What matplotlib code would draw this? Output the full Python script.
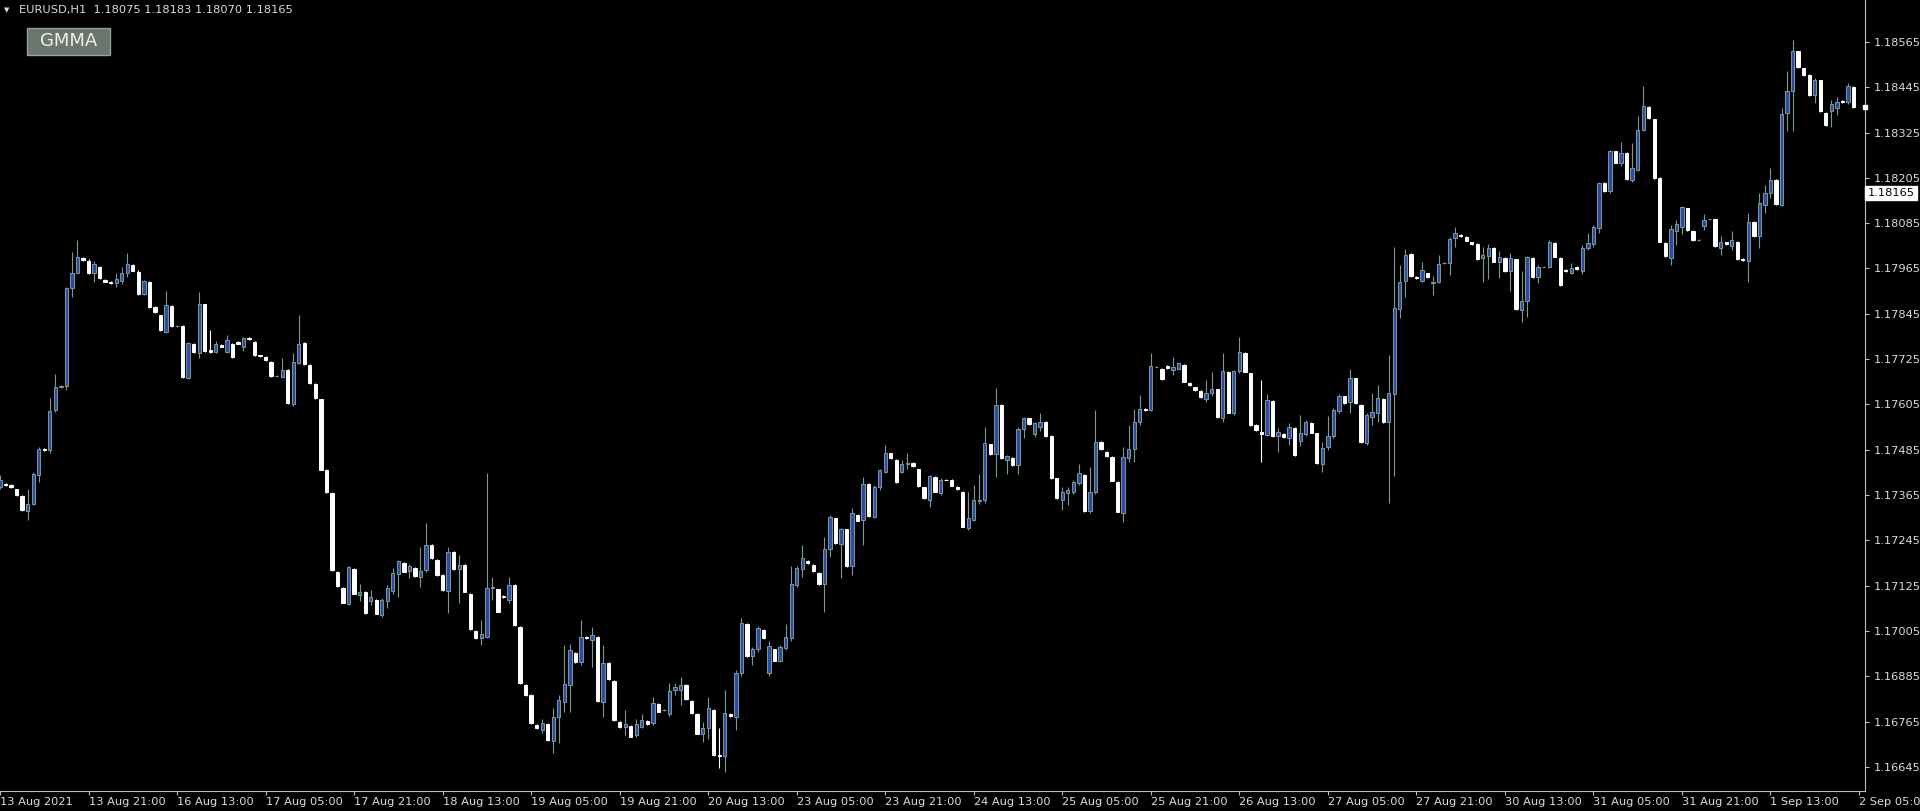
import numpy as np
import matplotlib
matplotlib.use("Agg")
import matplotlib.pyplot as plt
from matplotlib.patches import Rectangle
from matplotlib.transforms import blended_transform_factory

# ---------------- DATA (EURUSD H1) ----------------
opens = [
    1.17387, 1.17395, 1.17391, 1.17380, 1.17362, 1.17323, 1.17342, 1.17418, 1.17488, 1.17484,
    1.17590, 1.17652, 1.17654, 1.17912, 1.17953, 1.17993, 1.17985, 1.17952, 1.17970, 1.17934,
    1.17930, 1.17927, 1.17932, 1.17953, 1.17973, 1.17956, 1.17897, 1.17930, 1.17863, 1.17841,
    1.17797, 1.17865, 1.17812, 1.17812, 1.17674, 1.17765, 1.17742, 1.17870, 1.17749, 1.17745,
    1.17762, 1.17744, 1.17766, 1.17770, 1.17758, 1.17782, 1.17771, 1.17735, 1.17731, 1.17718,
    1.17680, 1.17678, 1.17696, 1.17606, 1.17715, 1.17768, 1.17709, 1.17659, 1.17618, 1.17432,
    1.17371, 1.17162, 1.17118, 1.17076, 1.17170, 1.17099, 1.17109, 1.17085, 1.17087, 1.17047,
    1.17085, 1.17112, 1.17156, 1.17186, 1.17164, 1.17172, 1.17147, 1.17166, 1.17232, 1.17193,
    1.17153, 1.17111, 1.17215, 1.17168, 1.17180, 1.17104, 1.17006, 1.16985, 1.16988, 1.17118,
    1.17115, 1.17098, 1.17088, 1.17126, 1.17016, 1.16862, 1.16835, 1.16756, 1.16742, 1.16758,
    1.16714, 1.16778, 1.16817, 1.16862, 1.16947, 1.16923, 1.16990, 1.16981, 1.16990, 1.16817,
    1.16921, 1.16873, 1.16765, 1.16751, 1.16754, 1.16729, 1.16751, 1.16767, 1.16760, 1.16811,
    1.16795, 1.16785, 1.16849, 1.16848, 1.16862, 1.16820, 1.16786, 1.16732, 1.16749, 1.16795,
    1.16676, 1.16673, 1.16785, 1.16776, 1.16894, 1.17023, 1.16938, 1.16956, 1.17007, 1.16893,
    1.16956, 1.16926, 1.16961, 1.16985, 1.17126, 1.17168, 1.17190, 1.17179, 1.17159, 1.17129,
    1.17221, 1.17303, 1.17235, 1.17274, 1.17177, 1.17312, 1.17299, 1.17394, 1.17306, 1.17385,
    1.17427, 1.17475, 1.17458, 1.17427, 1.17446, 1.17451, 1.17433, 1.17385, 1.17353, 1.17412,
    1.17369, 1.17406, 1.17405, 1.17387, 1.17374, 1.17277, 1.17300, 1.17350, 1.17353, 1.17499,
    1.17474, 1.17603, 1.17458, 1.17464, 1.17444, 1.17541, 1.17568, 1.17527, 1.17546, 1.17559,
    1.17521, 1.17409, 1.17352, 1.17369, 1.17374, 1.17398, 1.17418, 1.17323, 1.17374, 1.17506,
    1.17480, 1.17465, 1.17400, 1.17316, 1.17464, 1.17488, 1.17557, 1.17594, 1.17590, 1.17705,
    1.17700, 1.17707, 1.17696, 1.17698, 1.17709, 1.17662, 1.17650, 1.17640, 1.17618, 1.17634,
    1.17645, 1.17568, 1.17692, 1.17583, 1.17694, 1.17742, 1.17687, 1.17550, 1.17533, 1.17524,
    1.17615, 1.17521, 1.17527, 1.17515, 1.17542, 1.17509, 1.17527, 1.17555, 1.17528, 1.17447,
    1.17491, 1.17520, 1.17588, 1.17626, 1.17612, 1.17674, 1.17604, 1.17502, 1.17572, 1.17582,
    1.17619, 1.17557, 1.17633, 1.17857, 1.17933, 1.18004, 1.17943, 1.17933, 1.17952, 1.17926,
    1.17928, 1.17979, 1.17979, 1.18045, 1.18054, 1.18048, 1.18034, 1.18030, 1.17992, 1.17998,
    1.18019, 1.17983, 1.17992, 1.17957, 1.17989, 1.17855, 1.17880, 1.17992, 1.17942, 1.17970,
    1.17968, 1.18032, 1.17992, 1.17961, 1.17954, 1.17970, 1.17959, 1.18019, 1.18030, 1.18072,
    1.18191, 1.18169, 1.18275, 1.18244, 1.18272, 1.18200, 1.18226, 1.18332, 1.18392, 1.18360,
    1.18204, 1.18032, 1.17992, 1.18063, 1.18076, 1.18124, 1.18065, 1.18041, 1.18078, 1.18095,
    1.18095, 1.18019, 1.18034, 1.18025, 1.18036, 1.17990, 1.17986, 1.18089, 1.18051, 1.18133,
    1.18166, 1.18200, 1.18133, 1.18378, 1.18434, 1.18540, 1.18495, 1.18478, 1.18425, 1.18463,
    1.18378, 1.18381, 1.18390, 1.18409, 1.18405, 1.18445,
]
highs = [
    1.17418, 1.17398, 1.17393, 1.17382, 1.17364, 1.17380, 1.17426, 1.17493, 1.17490, 1.17621,
    1.17685, 1.17656, 1.17916, 1.18009, 1.18040, 1.17996, 1.17990, 1.17985, 1.17972, 1.17936,
    1.17931, 1.17953, 1.17969, 1.18005, 1.17976, 1.17960, 1.17934, 1.17932, 1.17866, 1.17843,
    1.17905, 1.17868, 1.17815, 1.17815, 1.17771, 1.17768, 1.17903, 1.17872, 1.17803, 1.17773,
    1.17764, 1.17788, 1.17768, 1.17772, 1.17784, 1.17784, 1.17773, 1.17737, 1.17733, 1.17720,
    1.17682, 1.17727, 1.17698, 1.17742, 1.17841, 1.17770, 1.17711, 1.17661, 1.17620, 1.17434,
    1.17373, 1.17164, 1.17120, 1.17177, 1.17172, 1.17128, 1.17111, 1.17113, 1.17089, 1.17091,
    1.17126, 1.17171, 1.17193, 1.17188, 1.17181, 1.17174, 1.17228, 1.17290, 1.17234, 1.17195,
    1.17155, 1.17228, 1.17217, 1.17206, 1.17182, 1.17106, 1.17008, 1.17034, 1.17422, 1.17149,
    1.17117, 1.17100, 1.17149, 1.17128, 1.17018, 1.16864, 1.16837, 1.16758, 1.16773, 1.16760,
    1.16800, 1.16835, 1.16968, 1.16970, 1.16949, 1.17034, 1.16992, 1.17016, 1.16992, 1.16968,
    1.16923, 1.16875, 1.16767, 1.16795, 1.16756, 1.16773, 1.16786, 1.16769, 1.16831, 1.16813,
    1.16797, 1.16866, 1.16868, 1.16884, 1.16864, 1.16822, 1.16788, 1.16764, 1.16831, 1.16797,
    1.16747, 1.16848, 1.16787, 1.16901, 1.17038, 1.17025, 1.16963, 1.17018, 1.17009, 1.16979,
    1.16958, 1.16967, 1.17022, 1.17177, 1.17177, 1.17232, 1.17192, 1.17181, 1.17161, 1.17254,
    1.17312, 1.17305, 1.17277, 1.17276, 1.17330, 1.17314, 1.17413, 1.17396, 1.17391, 1.17435,
    1.17497, 1.17477, 1.17460, 1.17458, 1.17477, 1.17453, 1.17435, 1.17387, 1.17418, 1.17414,
    1.17409, 1.17408, 1.17407, 1.17389, 1.17376, 1.17374, 1.17391, 1.17421, 1.17544, 1.17501,
    1.17648, 1.17605, 1.17471, 1.17466, 1.17544, 1.17571, 1.17570, 1.17559, 1.17583, 1.17561,
    1.17523, 1.17411, 1.17387, 1.17387, 1.17405, 1.17447, 1.17420, 1.17438, 1.17590, 1.17508,
    1.17482, 1.17467, 1.17402, 1.17493, 1.17550, 1.17594, 1.17630, 1.17596, 1.17740, 1.17707,
    1.17702, 1.17709, 1.17730, 1.17718, 1.17711, 1.17664, 1.17652, 1.17642, 1.17669, 1.17692,
    1.17647, 1.17742, 1.17694, 1.17696, 1.17784, 1.17744, 1.17689, 1.17552, 1.17670, 1.17633,
    1.17617, 1.17542, 1.17529, 1.17555, 1.17544, 1.17577, 1.17564, 1.17557, 1.17530, 1.17506,
    1.17573, 1.17595, 1.17633, 1.17628, 1.17698, 1.17676, 1.17606, 1.17581, 1.17634, 1.17657,
    1.17621, 1.17736, 1.18021, 1.17974, 1.18016, 1.18006, 1.17945, 1.17983, 1.17954, 1.17944,
    1.18001, 1.17981, 1.18048, 1.18076, 1.18056, 1.18050, 1.18036, 1.18032, 1.18023, 1.18030,
    1.18021, 1.18012, 1.17994, 1.18007, 1.17991, 1.17957, 1.17998, 1.17994, 1.17974, 1.17972,
    1.18041, 1.18034, 1.17994, 1.17963, 1.17980, 1.17972, 1.18027, 1.18060, 1.18080, 1.18195,
    1.18193, 1.18279, 1.18277, 1.18301, 1.18274, 1.18297, 1.18369, 1.18449, 1.18394, 1.18362,
    1.18206, 1.18034, 1.18080, 1.18094, 1.18131, 1.18126, 1.18067, 1.18043, 1.18110, 1.18097,
    1.18097, 1.18050, 1.18036, 1.18063, 1.18038, 1.17992, 1.18111, 1.18091, 1.18164, 1.18186,
    1.18231, 1.18202, 1.18389, 1.18487, 1.18570, 1.18542, 1.18497, 1.18480, 1.18469, 1.18465,
    1.18380, 1.18412, 1.18420, 1.18411, 1.18457, 1.18447,
]
lows = [
    1.17382, 1.17388, 1.17384, 1.17362, 1.17322, 1.17298, 1.17338, 1.17400, 1.17481, 1.17475,
    1.17585, 1.17648, 1.17643, 1.17890, 1.17953, 1.17985, 1.17950, 1.17930, 1.17938, 1.17928,
    1.17925, 1.17916, 1.17925, 1.17943, 1.17957, 1.17895, 1.17894, 1.17860, 1.17848, 1.17799,
    1.17795, 1.17810, 1.17809, 1.17676, 1.17671, 1.17742, 1.17727, 1.17745, 1.17740, 1.17742,
    1.17756, 1.17742, 1.17729, 1.17764, 1.17747, 1.17775, 1.17733, 1.17730, 1.17720, 1.17678,
    1.17678, 1.17676, 1.17607, 1.17600, 1.17712, 1.17710, 1.17660, 1.17619, 1.17430, 1.17371,
    1.17164, 1.17122, 1.17078, 1.17074, 1.17102, 1.17085, 1.17051, 1.17074, 1.17049, 1.17043,
    1.17067, 1.17103, 1.17096, 1.17160, 1.17144, 1.17148, 1.17122, 1.17162, 1.17195, 1.17151,
    1.17111, 1.17053, 1.17167, 1.17078, 1.17107, 1.17007, 1.16983, 1.16968, 1.16985, 1.17087,
    1.17054, 1.17092, 1.17078, 1.17019, 1.16864, 1.16833, 1.16758, 1.16745, 1.16734, 1.16714,
    1.16681, 1.16707, 1.16791, 1.16791, 1.16921, 1.16914, 1.16983, 1.16910, 1.16818, 1.16778,
    1.16875, 1.16767, 1.16749, 1.16729, 1.16723, 1.16725, 1.16747, 1.16757, 1.16756, 1.16789,
    1.16793, 1.16779, 1.16835, 1.16809, 1.16822, 1.16786, 1.16731, 1.16711, 1.16720, 1.16674,
    1.16641, 1.16632, 1.16778, 1.16742, 1.16885, 1.16936, 1.16915, 1.16950, 1.16983, 1.16886,
    1.16924, 1.16922, 1.16954, 1.16979, 1.17122, 1.17148, 1.17182, 1.17162, 1.17127, 1.17056,
    1.17201, 1.17235, 1.17144, 1.17175, 1.17153, 1.17295, 1.17232, 1.17307, 1.17303, 1.17378,
    1.17422, 1.17460, 1.17398, 1.17424, 1.17433, 1.17440, 1.17387, 1.17354, 1.17334, 1.17372,
    1.17365, 1.17404, 1.17388, 1.17379, 1.17279, 1.17271, 1.17297, 1.17341, 1.17345, 1.17472,
    1.17413, 1.17460, 1.17421, 1.17442, 1.17421, 1.17515, 1.17551, 1.17518, 1.17535, 1.17519,
    1.17407, 1.17354, 1.17325, 1.17338, 1.17368, 1.17391, 1.17321, 1.17316, 1.17368, 1.17484,
    1.17465, 1.17401, 1.17319, 1.17294, 1.17453, 1.17453, 1.17550, 1.17588, 1.17588, 1.17703,
    1.17669, 1.17700, 1.17683, 1.17696, 1.17663, 1.17654, 1.17641, 1.17623, 1.17612, 1.17627,
    1.17569, 1.17559, 1.17581, 1.17577, 1.17687, 1.17690, 1.17548, 1.17535, 1.17453, 1.17520,
    1.17519, 1.17480, 1.17516, 1.17498, 1.17469, 1.17495, 1.17522, 1.17528, 1.17447, 1.17427,
    1.17484, 1.17515, 1.17581, 1.17606, 1.17581, 1.17606, 1.17504, 1.17498, 1.17551, 1.17559,
    1.17555, 1.17343, 1.17414, 1.17833, 1.17890, 1.17943, 1.17937, 1.17928, 1.17940, 1.17895,
    1.17926, 1.17977, 1.17948, 1.18023, 1.18048, 1.18037, 1.18028, 1.17987, 1.17930, 1.17936,
    1.17981, 1.17939, 1.17955, 1.17904, 1.17855, 1.17822, 1.17836, 1.17941, 1.17926, 1.17968,
    1.17966, 1.17994, 1.17919, 1.17955, 1.17951, 1.17961, 1.17951, 1.18014, 1.18023, 1.18058,
    1.18167, 1.18164, 1.18243, 1.18237, 1.18199, 1.18195, 1.18222, 1.18328, 1.18361, 1.18202,
    1.18034, 1.17995, 1.17975, 1.18027, 1.18057, 1.18065, 1.18039, 1.18039, 1.18067, 1.18093,
    1.18023, 1.18001, 1.18028, 1.18014, 1.17988, 1.17985, 1.17930, 1.18049, 1.18019, 1.18111,
    1.18151, 1.18134, 1.18131, 1.18328, 1.18328, 1.18496, 1.18476, 1.18423, 1.18403, 1.18379,
    1.18343, 1.18339, 1.18372, 1.18403, 1.18401, 1.18390,
]
closes = [
    1.17404, 1.17391, 1.17386, 1.17364, 1.17325, 1.17340, 1.17420, 1.17488, 1.17483, 1.17588,
    1.17652, 1.17654, 1.17912, 1.17953, 1.17996, 1.17987, 1.17953, 1.17976, 1.17940, 1.17930,
    1.17927, 1.17936, 1.17953, 1.17976, 1.17959, 1.17897, 1.17932, 1.17863, 1.17850, 1.17802,
    1.17868, 1.17812, 1.17812, 1.17678, 1.17768, 1.17744, 1.17870, 1.17747, 1.17745, 1.17766,
    1.17758, 1.17775, 1.17731, 1.17766, 1.17782, 1.17777, 1.17735, 1.17732, 1.17722, 1.17680,
    1.17680, 1.17697, 1.17609, 1.17718, 1.17766, 1.17712, 1.17662, 1.17621, 1.17432, 1.17373,
    1.17166, 1.17124, 1.17080, 1.17175, 1.17104, 1.17109, 1.17053, 1.17094, 1.17051, 1.17087,
    1.17118, 1.17159, 1.17190, 1.17162, 1.17177, 1.17150, 1.17164, 1.17232, 1.17197, 1.17153,
    1.17113, 1.17215, 1.17169, 1.17180, 1.17109, 1.17009, 1.16985, 1.16996, 1.17118, 1.17122,
    1.17056, 1.17094, 1.17126, 1.17021, 1.16866, 1.16835, 1.16760, 1.16747, 1.16760, 1.16716,
    1.16778, 1.16822, 1.16864, 1.16954, 1.16923, 1.16990, 1.16985, 1.16994, 1.16820, 1.16919,
    1.16877, 1.16769, 1.16751, 1.16758, 1.16725, 1.16758, 1.16769, 1.16759, 1.16815, 1.16791,
    1.16795, 1.16847, 1.16857, 1.16863, 1.16824, 1.16788, 1.16733, 1.16749, 1.16800, 1.16676,
    1.16674, 1.16788, 1.16780, 1.16894, 1.17025, 1.16938, 1.16956, 1.17014, 1.16985, 1.16965,
    1.16926, 1.16963, 1.16988, 1.17129, 1.17171, 1.17197, 1.17184, 1.17164, 1.17129, 1.17221,
    1.17306, 1.17237, 1.17274, 1.17177, 1.17316, 1.17297, 1.17394, 1.17309, 1.17387, 1.17431,
    1.17475, 1.17462, 1.17400, 1.17446, 1.17449, 1.17442, 1.17389, 1.17356, 1.17415, 1.17374,
    1.17406, 1.17405, 1.17390, 1.17381, 1.17281, 1.17303, 1.17353, 1.17353, 1.17502, 1.17474,
    1.17603, 1.17462, 1.17468, 1.17444, 1.17539, 1.17568, 1.17553, 1.17555, 1.17559, 1.17521,
    1.17409, 1.17356, 1.17374, 1.17378, 1.17400, 1.17422, 1.17323, 1.17374, 1.17506, 1.17486,
    1.17467, 1.17403, 1.17321, 1.17466, 1.17488, 1.17559, 1.17594, 1.17590, 1.17707, 1.17705,
    1.17671, 1.17702, 1.17705, 1.17714, 1.17665, 1.17656, 1.17643, 1.17625, 1.17636, 1.17646,
    1.17571, 1.17694, 1.17583, 1.17694, 1.17745, 1.17692, 1.17550, 1.17537, 1.17527, 1.17617,
    1.17521, 1.17533, 1.17518, 1.17544, 1.17471, 1.17528, 1.17557, 1.17530, 1.17449, 1.17489,
    1.17521, 1.17590, 1.17626, 1.17608, 1.17674, 1.17608, 1.17506, 1.17577, 1.17586, 1.17621,
    1.17557, 1.17634, 1.17860, 1.17928, 1.18001, 1.17945, 1.17939, 1.17961, 1.17942, 1.17930,
    1.17977, 1.17979, 1.18042, 1.18060, 1.18050, 1.18039, 1.18030, 1.17989, 1.18001, 1.18019,
    1.17983, 1.17995, 1.17957, 1.17992, 1.17857, 1.17880, 1.17995, 1.17943, 1.17970, 1.17970,
    1.18036, 1.17996, 1.17921, 1.17957, 1.17965, 1.17963, 1.18019, 1.18032, 1.18074, 1.18191,
    1.18169, 1.18275, 1.18245, 1.18272, 1.18201, 1.18231, 1.18332, 1.18394, 1.18363, 1.18204,
    1.18036, 1.17997, 1.18069, 1.18083, 1.18127, 1.18067, 1.18041, 1.18041, 1.18094, 1.18095,
    1.18025, 1.18034, 1.18030, 1.18041, 1.17990, 1.17987, 1.18089, 1.18051, 1.18138, 1.18166,
    1.18200, 1.18136, 1.18374, 1.18436, 1.18542, 1.18498, 1.18478, 1.18425, 1.18465, 1.18381,
    1.18345, 1.18401, 1.18407, 1.18405, 1.18447, 1.18392,
]

time_labels = [
    "13 Aug 2021", "13 Aug 21:00", "16 Aug 13:00", "17 Aug 05:00", "17 Aug 21:00",
    "18 Aug 13:00", "19 Aug 05:00", "19 Aug 21:00", "20 Aug 13:00", "23 Aug 05:00",
    "23 Aug 21:00", "24 Aug 13:00", "25 Aug 05:00", "25 Aug 21:00", "26 Aug 13:00",
    "27 Aug 05:00", "27 Aug 21:00", "30 Aug 13:00", "31 Aug 05:00", "31 Aug 21:00",
    "1 Sep 13:00", "2 Sep 05:00",
]
bars_per_label = 16

price_ticks = [
    1.18565, 1.18445, 1.18325, 1.18205, 1.18085, 1.17965, 1.17845, 1.17725, 1.17605,
    1.17485, 1.17365, 1.17245, 1.17125, 1.17005, 1.16885, 1.16765, 1.16645,
]

symbol = "EURUSD,H1"
header_ohlc = [1.18075, 1.18183, 1.18070, 1.18165]
marked_price = 1.18165
y_range = (1.16581, 1.18676)

# ---------------- STYLE ----------------
bg = "black"
fg = "#dcdcdc"
axis_col = "#bdbdbd"
wick_up = "#7a9a94"
bull_fill = "#2c4aa8"
bear_fill = "white"
font_size = 8.2

W, H = 1920, 811
plot_right_px = 1865
plot_bottom_px = 791
bar_px = 1859 / 336  # pixel spacing of one H1 bar

o = np.array(opens)
h = np.array(highs)
l = np.array(lows)
c = np.array(closes)
x = np.arange(len(c))
bull = c >= o

fig = plt.figure(figsize=(W / 100, H / 100), dpi=100, facecolor=bg)
ax = fig.add_axes([0, (H - plot_bottom_px) / H, plot_right_px / W, plot_bottom_px / H])
ax.set_facecolor(bg)

# wicks
ax.vlines(x[bull], l[bull], h[bull], color=wick_up, linewidth=0.8, zorder=1)
ax.vlines(x[~bull], l[~bull], h[~bull], color=bear_fill, linewidth=0.8, zorder=1)

# bodies
body_lo = np.minimum(o, c)
body_h = np.abs(c - o)
ax.bar(x[bull], body_h[bull], bottom=body_lo[bull], width=0.6,
       color=bull_fill, edgecolor=wick_up, linewidth=0.7, zorder=2)
ax.bar(x[~bull], body_h[~bull], bottom=body_lo[~bull], width=0.6,
       color=bear_fill, edgecolor=bear_fill, linewidth=0.7, zorder=2)

ax.set_xlim(0, plot_right_px / bar_px)
ax.set_ylim(*y_range)

for side in ["top", "left"]:
    ax.spines[side].set_visible(False)
for side in ["right", "bottom"]:
    ax.spines[side].set_color(axis_col)
    ax.spines[side].set_linewidth(0.8)

# price axis on the right
ax.yaxis.tick_right()
ax.set_yticks(price_ticks)
ax.set_yticklabels([f"{p:.5f}" for p in price_ticks])
ax.tick_params(axis="y", direction="out", length=3, width=0.8, pad=3,
               colors=axis_col, labelcolor=fg, labelsize=font_size)

# time axis
ax.set_xticks(np.arange(len(time_labels)) * bars_per_label)
ax.set_xticklabels(time_labels)
ax.tick_params(axis="x", direction="out", length=3, width=0.8, pad=1.5,
               colors=axis_col, labelcolor=fg, labelsize=font_size)
for lab in ax.get_xticklabels():
    lab.set_horizontalalignment("left")

# price box on the axis + last-price marker
tr = blended_transform_factory(ax.transAxes, ax.transData)
ax.text(1.0 + 2.5 / plot_right_px, marked_price, f"{marked_price:.5f}", transform=tr,
        ha="left", va="center", color="black", fontsize=font_size, clip_on=False,
        bbox=dict(facecolor="white", edgecolor="white", boxstyle="square,pad=0.18"))
ax.plot([1.0], [c[-1]], marker="s", markersize=3, color="white",
        transform=tr, clip_on=False, zorder=5)

# header line
fig.text(4 / W, 1 - 10.5 / H, "\u25bc", color=fg, fontsize=5, ha="left", va="center")
fig.text(19 / W, 1 - 10.5 / H,
         symbol + "  " + " ".join(f"{v:.5f}" for v in header_ohlc),
         color=fg, fontsize=font_size, ha="left", va="center")

# GMMA button
fig.patches.append(Rectangle((27 / W, 1 - 55 / H), 83 / W, 27 / H, transform=fig.transFigure,
                             facecolor="#6b766f", edgecolor="#98a29b", linewidth=1))
fig.text(68.5 / W, 1 - 41.5 / H, "GMMA", color="#eeeeee", fontsize=13,
         ha="center", va="center")

fig.savefig("out.png", dpi=100, facecolor=bg)
